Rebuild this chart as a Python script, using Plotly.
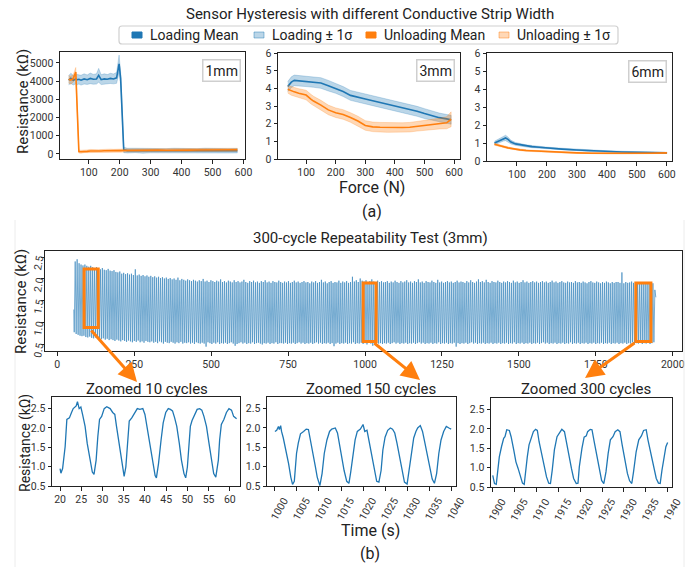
import plotly.graph_objects as go

# ---------------- hysteresis data ----------------
force_1mm = [35, 42, 50, 58, 63, 68, 75, 85, 95, 105, 115, 125, 132, 140, 150, 160, 170, 180, 190,
             198, 203, 213, 225, 250, 275, 300, 325, 350, 375, 400, 425, 450, 475, 500, 525, 550, 580]
load_mean_1mm = [4050, 4150, 4050, 4120, 4080, 4100, 4050, 4120, 4080, 4150, 4100, 4120, 4320, 4080, 4120,
                 4100, 4150, 4120, 4180, 4950, 4150, 220, 180, 190, 170, 180, 190, 170, 180, 175, 185, 170,
                 180, 175, 180, 170, 175]
load_std_1mm = [250, 280, 260, 270, 280, 260, 270, 280, 260, 290, 270, 280, 380, 270, 280, 260, 280, 270,
                300, 480, 320, 150, 130, 120, 130, 120, 125, 120, 130, 120, 125, 120, 130, 120, 125, 120, 120]
unload_mean_1mm = [4100, 4050, 4150, 4500, 2300, 130, 120, 150, 140, 160, 150, 170, 150, 160, 170, 165,
                   175, 170, 180, 185, 180, 185, 190, 200, 195, 205, 210, 200, 215, 210, 205, 215, 210,
                   220, 215, 220, 225]
unload_std_1mm = [200, 220, 200, 250, 150, 80, 80, 80, 80, 85, 80, 85, 80, 80, 85, 80, 85, 80, 85, 80,
                  85, 80, 85, 80, 85, 80, 85, 80, 85, 80, 85, 80, 85, 80, 85, 80, 85]

force_3mm = [38, 50, 60, 75, 100, 117, 125, 150, 175, 200, 225, 250, 275, 300, 325, 350, 375, 400, 425,
             450, 475, 500, 525, 550, 575, 590]
load_mean_3mm = [4.10, 4.35, 4.45, 4.43, 4.40, 4.38, 4.36, 4.30, 4.15, 4.00, 3.82, 3.60, 3.48, 3.40, 3.30,
                 3.20, 3.08, 3.00, 2.90, 2.82, 2.70, 2.57, 2.45, 2.34, 2.27, 2.22]
load_std_3mm = [0.28, 0.30, 0.30, 0.30, 0.30, 0.30, 0.30, 0.30, 0.30, 0.28, 0.28, 0.28, 0.28, 0.28, 0.28,
                0.28, 0.28, 0.28, 0.28, 0.28, 0.28, 0.28, 0.27, 0.26, 0.25, 0.25]
unload_mean_3mm = [3.95, 3.85, 3.80, 3.72, 3.62, 3.38, 3.28, 3.05, 2.78, 2.62, 2.52, 2.35, 2.15, 1.90, 1.82,
                   1.80, 1.78, 1.77, 1.78, 1.80, 1.85, 1.90, 1.95, 2.00, 2.05, 2.25]
unload_std_3mm = [0.22, 0.24, 0.25, 0.26, 0.27, 0.27, 0.27, 0.27, 0.27, 0.27, 0.27, 0.27, 0.27, 0.27, 0.27,
                  0.27, 0.27, 0.27, 0.27, 0.27, 0.27, 0.28, 0.28, 0.30, 0.34, 0.42]

force_6mm = [25, 35, 45, 55, 62, 70, 80, 95, 110, 130, 150, 175, 200, 250, 300, 350, 400, 450, 500, 550, 600]
load_mean_6mm = [1.00, 1.08, 1.15, 1.25, 1.28, 1.20, 1.05, 0.95, 0.90, 0.84, 0.80, 0.76, 0.72, 0.66, 0.61,
                 0.56, 0.53, 0.50, 0.48, 0.46, 0.45]
load_std_6mm = [0.10, 0.11, 0.12, 0.14, 0.15, 0.13, 0.10, 0.08, 0.07, 0.06, 0.06, 0.05, 0.05, 0.05, 0.04,
                0.04, 0.04, 0.04, 0.03, 0.03, 0.03]
unload_mean_6mm = [0.93, 0.88, 0.84, 0.80, 0.77, 0.73, 0.70, 0.65, 0.62, 0.58, 0.56, 0.54, 0.52, 0.48, 0.45,
                   0.43, 0.42, 0.42, 0.42, 0.43, 0.45]
unload_std_6mm = [0.05, 0.05, 0.05, 0.05, 0.05, 0.04, 0.04, 0.04, 0.04, 0.04, 0.04, 0.04, 0.03, 0.03, 0.03,
                  0.03, 0.03, 0.03, 0.03, 0.03, 0.03]

# ---------------- repeatability data (per-cycle troughs and peaks) ----------------
rep_t0 = 55.0
rep_period = 6.3
rep_first = 1.30
rep_last = 1.58
rep_peaks = [
    2.40, 2.45, 2.36, 2.33, 2.31, 2.33, 2.30, 2.28, 2.30, 2.27, 2.25, 2.27, 2.24, 2.22, 2.25, 2.21, 2.20, 2.23, 2.19, 2.18,
    2.20, 2.16, 2.15, 2.17, 2.12, 2.14, 2.11, 2.13, 2.10, 2.12, 2.09, 2.22, 2.08, 2.10, 2.07, 2.09, 2.06, 2.08, 2.05, 2.07,
    2.04, 2.06, 2.03, 2.05, 2.02, 2.04, 2.01, 2.03, 2.00, 2.02, 1.99, 2.01, 1.98, 2.03, 1.97, 2.00, 1.98, 1.96, 1.99, 1.97,
    1.95, 1.98, 1.96, 1.94, 1.97, 1.95, 2.00, 1.94, 1.96, 1.93, 1.97, 1.95, 1.93, 1.96, 1.94, 1.99, 1.93, 1.95, 1.92, 1.96,
    1.94, 1.92, 1.97, 1.93, 1.95, 1.92, 1.94, 1.98, 1.93, 1.91, 1.95, 1.93, 1.96, 1.92, 1.94, 1.91, 1.95, 1.93, 1.97, 1.92,
    1.94, 1.91, 1.95, 1.93, 1.92, 1.96, 1.93, 1.91, 1.94, 1.92, 1.95, 1.91, 1.93, 1.96, 1.92, 1.94, 1.91, 1.93, 1.95, 1.92,
    1.93, 1.90, 1.94, 1.92, 1.95, 1.91, 1.93, 1.98, 1.92, 1.94, 1.90, 1.93, 1.95, 1.91, 1.93, 1.92, 1.96, 1.91, 1.94, 1.92,
    1.95, 1.91, 1.93, 2.05, 1.94, 1.97, 1.93, 2.01, 1.96, 1.94, 1.97, 1.93, 1.95, 1.99, 1.94, 1.92, 1.96, 1.93, 1.95, 1.92,
    1.93, 1.95, 1.91, 1.94, 1.92, 1.96, 1.93, 1.91, 1.95, 1.92, 1.94, 1.97, 1.92, 1.94, 1.91, 1.95, 1.93, 1.99, 1.92, 1.94,
    1.91, 1.95, 1.93, 1.92, 1.96, 1.93, 1.91, 1.98, 1.92, 1.94, 1.91, 1.93, 1.95, 1.92, 1.94, 1.91, 1.93, 1.96, 1.92, 1.94,
    1.93, 1.91, 1.95, 1.92, 1.97, 1.93, 1.91, 1.94, 1.99, 1.93, 1.95, 1.92, 1.98, 1.93, 1.91, 1.95, 1.93, 1.92, 1.96, 1.93,
    1.91, 1.94, 1.92, 1.95, 1.93, 1.91, 1.96, 1.92, 1.94, 1.91, 1.93, 1.97, 1.92, 1.94, 1.91, 1.93, 1.95, 1.92, 1.94, 1.91,
    1.93, 1.95, 1.92, 1.94, 1.91, 1.93, 1.96, 1.92, 1.94, 1.91, 1.93, 1.95, 1.92, 1.91, 1.94, 1.92, 1.93, 1.91, 1.95, 1.92,
    1.93, 1.91, 1.94, 1.92, 1.90, 1.93, 1.95, 1.92, 1.91, 1.94, 1.92, 1.90, 1.93, 1.91, 1.94, 1.92, 1.90, 1.93, 1.91, 1.93,
    1.93, 1.91, 2.15, 1.90, 1.93, 1.91, 1.92, 1.94, 1.91, 1.93, 1.90, 1.92, 1.91, 1.93, 1.90, 1.92, 1.91, 1.93, 1.90, 1.75,
]
rep_troughs = [
    0.78, 0.74, 0.72, 0.70, 0.69, 0.70, 0.67, 0.66, 0.68, 0.65, 0.64, 0.66, 0.63, 0.65, 0.62, 0.64, 0.61, 0.63, 0.60, 0.62,
    0.60, 0.58, 0.61, 0.59, 0.57, 0.60, 0.58, 0.56, 0.59, 0.57, 0.55, 0.58, 0.56, 0.59, 0.55, 0.57, 0.54, 0.58, 0.56, 0.55,
    0.57, 0.54, 0.56, 0.53, 0.57, 0.55, 0.52, 0.56, 0.54, 0.53, 0.56, 0.54, 0.52, 0.55, 0.53, 0.56, 0.52, 0.54, 0.53, 0.55,
    0.52, 0.54, 0.51, 0.55, 0.53, 0.52, 0.54, 0.52, 0.45, 0.55, 0.53, 0.51, 0.54, 0.52, 0.55, 0.51, 0.53, 0.52, 0.54, 0.51,
    0.53, 0.55, 0.52, 0.47, 0.51, 0.53, 0.55, 0.52, 0.54, 0.51, 0.53, 0.52, 0.55, 0.51, 0.53, 0.54, 0.52, 0.50, 0.53, 0.52,
    0.54, 0.51, 0.53, 0.52, 0.55, 0.51, 0.53, 0.53, 0.52, 0.54, 0.51, 0.53, 0.52, 0.54, 0.51, 0.53, 0.55, 0.52, 0.54, 0.51,
    0.53, 0.52, 0.54, 0.51, 0.53, 0.55, 0.52, 0.54, 0.51, 0.53, 0.52, 0.54, 0.51, 0.53, 0.46, 0.52, 0.54, 0.51, 0.53, 0.52,
    0.54, 0.51, 0.53, 0.52, 0.55, 0.51, 0.53, 0.52, 0.54, 0.51, 0.53, 0.50, 0.54, 0.52, 0.47, 0.51, 0.54, 0.52, 0.53, 0.51,
    0.53, 0.52, 0.54, 0.51, 0.53, 0.55, 0.52, 0.54, 0.51, 0.53, 0.52, 0.54, 0.51, 0.53, 0.52, 0.54, 0.51, 0.53, 0.55, 0.52,
    0.54, 0.51, 0.53, 0.52, 0.54, 0.51, 0.53, 0.52, 0.55, 0.51, 0.53, 0.52, 0.54, 0.51, 0.53, 0.52, 0.54, 0.45, 0.53, 0.51,
    0.53, 0.52, 0.54, 0.51, 0.53, 0.55, 0.52, 0.54, 0.51, 0.53, 0.52, 0.54, 0.51, 0.53, 0.52, 0.54, 0.51, 0.53, 0.52, 0.54,
    0.51, 0.53, 0.52, 0.54, 0.51, 0.53, 0.52, 0.55, 0.51, 0.53, 0.52, 0.54, 0.51, 0.53, 0.52, 0.54, 0.51, 0.53, 0.52, 0.54,
    0.51, 0.53, 0.55, 0.52, 0.54, 0.51, 0.53, 0.52, 0.54, 0.51, 0.53, 0.52, 0.54, 0.51, 0.53, 0.52, 0.55, 0.51, 0.53, 0.52,
    0.54, 0.51, 0.53, 0.52, 0.54, 0.51, 0.53, 0.52, 0.54, 0.51, 0.53, 0.52, 0.54, 0.51, 0.53, 0.52, 0.54, 0.51, 0.53, 0.52,
    0.54, 0.51, 0.53, 0.52, 0.54, 0.51, 0.53, 0.52, 0.55, 0.51, 0.53, 0.52, 0.54, 0.51, 0.53, 0.52, 0.54, 0.51, 0.53, 0.55,
]
highlight_t = [(87, 133), (994, 1036), (1880, 1929)]
highlight_r = [(0.89, 2.23), (0.57, 1.91), (0.57, 1.91)]

# ---------------- zoomed windows ----------------
t10 = [20.0, 20.2, 20.6, 21.2, 21.6, 22.2, 22.7, 23.1, 23.8, 24.1, 24.5, 24.9, 25.3, 25.9, 26.4, 27.1, 27.6,
       28.0, 28.5, 28.9, 29.3, 29.8, 30.4, 31.0, 31.8, 32.4, 32.9, 33.3, 34.0, 34.6, 35.1, 35.5, 35.9, 36.3,
       36.9, 37.6, 38.2, 38.8, 39.5, 40.0, 40.5, 41.2, 41.8, 42.4, 42.7, 43.2, 43.8, 44.3, 44.9, 45.5, 46.0,
       46.5, 47.0, 47.5, 48.1, 48.6, 49.2, 49.6, 50.0, 50.4, 50.7, 51.1, 51.8, 52.3, 52.9, 53.4, 53.9, 54.5,
       55.1, 55.7, 56.2, 56.7, 57.3, 57.6, 58.0, 58.6, 59.2, 59.8, 60.4, 60.9, 61.6]
r10 = [0.95, 0.83, 0.95, 1.52, 2.22, 2.26, 2.40, 2.50, 2.57, 2.68, 2.50, 2.54, 2.35, 2.04, 1.60, 1.17, 0.86,
       0.80, 1.17, 1.78, 2.22, 2.30, 2.50, 2.55, 2.50, 2.40, 2.35, 2.04, 1.56, 1.08, 0.75, 0.99, 1.52, 2.18,
       2.26, 2.41, 2.50, 2.48, 2.50, 2.35, 2.04, 1.60, 1.17, 0.77, 0.71, 1.08, 1.69, 2.13, 2.40, 2.50, 2.48,
       2.44, 2.26, 2.04, 1.60, 1.17, 0.82, 0.71, 0.99, 1.52, 2.04, 2.19, 2.35, 2.48, 2.50, 2.46, 2.30, 2.04,
       1.60, 1.17, 0.82, 0.73, 1.17, 1.69, 2.09, 2.22, 2.40, 2.50, 2.46, 2.30, 2.24]

t150 = [1000.0, 1000.4, 1000.8, 1001.0, 1001.3, 1001.5, 1001.9, 1002.5, 1003.1, 1003.6, 1004.0, 1004.4,
        1004.6, 1004.9, 1005.3, 1005.8, 1006.5, 1007.1, 1007.6, 1008.0, 1008.6, 1009.2, 1009.6, 1010.2,
        1010.7, 1011.2, 1011.8, 1012.4, 1012.9, 1013.7, 1014.2, 1014.6, 1015.2, 1015.7, 1016.3, 1016.8,
        1017.2, 1017.7, 1018.2, 1018.7, 1019.4, 1020.0, 1020.4, 1020.9, 1021.3, 1022.0, 1022.5, 1023.1,
        1023.6, 1024.1, 1024.5, 1025.0, 1025.6, 1026.2, 1026.7, 1027.2, 1027.7, 1028.3, 1028.8, 1029.4,
        1030.0, 1030.4, 1030.9, 1031.5, 1032.0, 1032.4, 1033.0, 1033.5, 1033.9, 1034.5, 1035.1, 1035.7,
        1036.2, 1036.7, 1037.2, 1037.7, 1038.3, 1038.9, 1039.5, 1040.0]
r150 = [1.91, 1.94, 2.04, 1.96, 2.06, 1.91, 1.74, 1.43, 1.08, 0.73, 0.54, 0.62, 0.99, 1.34, 1.61, 1.85,
        1.91, 1.97, 1.96, 1.69, 1.34, 0.99, 0.73, 0.51, 0.82, 1.34, 1.69, 1.91, 1.97, 2.00, 1.87, 1.61,
        1.25, 0.90, 0.62, 0.57, 0.86, 1.34, 1.69, 1.91, 1.97, 2.09, 1.91, 1.94, 1.69, 1.25, 0.90, 0.62,
        0.60, 0.90, 1.43, 1.76, 1.94, 2.00, 1.97, 1.87, 1.61, 1.25, 0.90, 0.60, 0.55, 0.90, 1.34, 1.74,
        1.91, 2.00, 2.06, 1.91, 1.69, 1.34, 0.99, 0.68, 0.57, 0.82, 1.34, 1.69, 1.91, 2.04, 2.00, 1.97]

t300 = [1900.0, 1900.4, 1900.8, 1901.1, 1901.5, 1902.0, 1902.5, 1902.8, 1903.2, 1903.8, 1904.2, 1904.8,
        1905.3, 1905.8, 1906.3, 1906.8, 1907.2, 1907.5, 1907.9, 1908.3, 1908.7, 1909.3, 1909.8, 1910.2,
        1910.6, 1911.2, 1911.7, 1912.3, 1912.8, 1913.2, 1913.6, 1914.1, 1914.7, 1915.3, 1915.8, 1916.4,
        1916.8, 1917.4, 1918.0, 1918.5, 1919.1, 1919.5, 1919.8, 1920.4, 1920.9, 1921.4, 1921.7, 1922.3,
        1922.7, 1923.2, 1923.8, 1924.4, 1924.9, 1925.4, 1925.9, 1926.4, 1926.9, 1927.5, 1928.0, 1928.6,
        1929.1, 1929.6, 1930.2, 1930.8, 1931.3, 1931.8, 1932.2, 1932.8, 1933.4, 1934.0, 1934.5, 1935.1,
        1935.5, 1936.2, 1936.8, 1937.4, 1937.9, 1938.3, 1938.7, 1939.2, 1939.6, 1940.0]
r300 = [0.80, 0.59, 0.57, 0.93, 1.28, 1.54, 1.76, 1.80, 1.98, 1.96, 1.80, 1.46, 1.15, 0.98, 0.76, 0.60,
        0.57, 0.93, 1.28, 1.59, 1.72, 1.93, 1.99, 1.96, 1.67, 1.33, 1.02, 0.76, 0.60, 0.59, 0.93, 1.46,
        1.80, 1.91, 1.99, 1.93, 1.67, 1.33, 0.98, 0.72, 0.59, 0.60, 1.02, 1.50, 1.79, 1.82, 1.93, 1.99,
        1.98, 1.67, 1.28, 0.93, 0.67, 0.59, 0.89, 1.37, 1.72, 1.80, 1.93, 1.98, 1.93, 1.59, 1.20, 0.85,
        0.66, 0.59, 0.89, 1.41, 1.72, 1.82, 1.96, 1.98, 1.72, 1.33, 0.98, 0.72, 0.60, 0.59, 0.93, 1.28,
        1.54, 1.65]

# ---------------- style ----------------
W, H = 699, 567
FONT = "Roboto"
BLUE = "#1f77b4"
ORANGE = "#ff7f0e"
BLUE_BAND = "rgba(31,119,180,0.30)"
ORANGE_BAND = "rgba(255,127,14,0.30)"


def px(x):
    return x / W


def py(y):
    return 1 - y / H


fig = go.Figure()


def add_band(xs, mean, std, fillc, ax):
    upper = [m + s for m, s in zip(mean, std)]
    lower = [m - s for m, s in zip(mean, std)]
    fig.add_trace(go.Scatter(x=list(xs) + list(xs)[::-1], y=upper + lower[::-1], fill="toself",
                             fillcolor=fillc, mode="lines", line=dict(width=0.8, color=fillc),
                             hoverinfo="skip", showlegend=False, xaxis="x" + ax, yaxis="y" + ax))


def add_line(xs, ys, color, ax, width=1.6, opacity=1.0):
    fig.add_trace(go.Scatter(x=xs, y=ys, mode="lines", line=dict(width=width, color=color),
                             opacity=opacity, showlegend=False, xaxis="x" + ax, yaxis="y" + ax))


panels = [
    ("", force_1mm, load_mean_1mm, load_std_1mm, unload_mean_1mm, unload_std_1mm),
    ("2", force_3mm, load_mean_3mm, load_std_3mm, unload_mean_3mm, unload_std_3mm),
    ("3", force_6mm, load_mean_6mm, load_std_6mm, unload_mean_6mm, unload_std_6mm),
]
for ax, f, lm, ls, um, us in panels:
    add_band(f, lm, ls, BLUE_BAND, ax)
    add_line(f, lm, BLUE, ax)
    add_band(f, um, us, ORANGE_BAND, ax)
    add_line(f, um, ORANGE, ax)

# repeatability long trace
rep_x = [rep_t0 - 1.5]
rep_y = [rep_first]
for i, (tr, pk) in enumerate(zip(rep_troughs, rep_peaks)):
    rep_x += [rep_t0 + i * rep_period, rep_t0 + i * rep_period + rep_period / 2]
    rep_y += [tr, pk]
rep_x.append(rep_t0 + len(rep_peaks) * rep_period)
rep_y.append(rep_last)
add_line(rep_x, rep_y, BLUE, "4", width=0.7, opacity=0.85)

add_line(t10, r10, BLUE, "5", width=1.3)
add_line(t150, r150, BLUE, "6", width=1.3)
add_line(t300, r300, BLUE, "7", width=1.3)

# ---------------- axes ----------------
tickfont = dict(family=FONT, size=10.5, color="#333")


def axstyle(**kw):
    d = dict(showline=True, mirror=True, linecolor="#222", linewidth=1, ticks="outside", ticklen=3.5,
             tickwidth=0.8, tickcolor="#222", showgrid=False, zeroline=False, tickfont=tickfont,
             automargin=False)
    d.update(kw)
    return d


boxes = {
    "": ((60, 245), (52, 159)),
    "2": ((278, 460), (53, 159)),
    "3": ((487, 672), (53, 161)),
    "4": ((45, 682), (251, 351)),
    "5": ((52, 240), (397, 486)),
    "6": ((267, 456), (397, 486)),
    "7": ((491, 672), (398, 487)),
}
xranges = {"": [7, 605], "2": [5, 620], "3": [0, 617], "4": [-40, 2030],
           "5": [18.1, 62.4], "6": [998.2, 1041.1], "7": [1899.6, 1941.0]}
yranges = {"": [-280, 5600], "2": [0, 6], "3": [0, 6], "4": [0.35, 2.64],
           "5": [0.5, 2.8], "6": [0.5, 2.8], "7": [0.5, 2.8]}

layout = {}
for ax, ((x0, x1), (y0, y1)) in boxes.items():
    xk = dict(domain=[px(x0), px(x1)], range=xranges[ax], anchor="y" + ax)
    yk = dict(domain=[py(y1), py(y0)], range=yranges[ax], anchor="x" + ax)
    if ax in ("", "2", "3"):
        xk.update(tickvals=[100, 200, 300, 400, 500, 600])
        if ax == "":
            yk.update(tickvals=[0, 1000, 2000, 3000, 4000, 5000])
        else:
            yk.update(tickvals=[0, 1, 2, 3, 4, 5, 6])
    elif ax == "4":
        xk.update(tickvals=[0, 250, 500, 750, 1000, 1250, 1500, 1750, 2000])
        yk.update(tickvals=[0.5, 1.0, 1.5, 2.0, 2.5], tickformat=".1f", tickangle=-80)
    else:
        yk.update(tickvals=[0.5, 1.0, 1.5, 2.0, 2.5], tickformat=".1f")
        if ax == "5":
            xk.update(tickvals=[20, 25, 30, 35, 40, 45, 50, 55, 60])
        elif ax == "6":
            xk.update(tickvals=list(range(1000, 1041, 5)), tickangle=-60, ticklabelshift=9)
        else:
            xk.update(tickvals=list(range(1900, 1941, 5)), tickangle=-60, ticklabelshift=9)
    layout["xaxis" + ax] = axstyle(**xk)
    layout["yaxis" + ax] = axstyle(**yk)

# ---------------- annotations ----------------
ann = []


def text(x, y, s, size, color="#222", angle=0, xanchor="center", **kw):
    ann.append(dict(x=px(x), y=py(y), xref="paper", yref="paper", text=s, showarrow=False,
                    font=dict(family=FONT, size=size, color=color), textangle=angle,
                    xanchor=xanchor, yanchor="middle", **kw))


text(370, 14, "Sensor Hysteresis with different Conductive Strip Width", 15)
text(23, 102, "Resistance (kΩ)", 15, angle=-90)
text(372, 187, "Force (N)", 16)
text(372, 211, "(a)", 16)
text(370, 238, "300-cycle Repeatability Test (3mm)", 15)
text(21, 302, "Resistance (kΩ)", 15, angle=-90)
text(147, 389, "Zoomed 10 cycles", 15)
text(371, 389, "Zoomed 150 cycles", 15)
text(586, 389, "Zoomed 300 cycles", 15)
text(25, 443, "Resistance (kΩ)", 14, angle=-90)
text(370, 530, "Time (s)", 16)
text(370, 553, "(b)", 16)

# width labels
for label, xr, yc in [("1mm", 241, 70), ("3mm", 455, 70), ("6mm", 667, 71)]:
    ann.append(dict(x=px(xr), y=py(yc), xref="paper", yref="paper", text=label, showarrow=False,
                    font=dict(family=FONT, size=14, color="#222"), xanchor="right", yanchor="middle",
                    bgcolor="white", bordercolor="#cfcfcf", borderwidth=1.5, borderpad=2))

# legend
legend_items = [("Loading Mean", BLUE, BLUE, 132), ("Loading ± 1σ", BLUE_BAND, "rgba(31,119,180,0.45)", 254),
                ("Unloading Mean", ORANGE, ORANGE, 366), ("Unloading ± 1σ", ORANGE_BAND, "rgba(255,127,14,0.45)", 499)]
shapes = []


def rrect(x0, y0, x1, y1, r):
    X = lambda v: f"{px(v):.5f}"
    Y = lambda v: f"{py(v):.5f}"
    return (f"M{X(x0 + r)},{Y(y0)} L{X(x1 - r)},{Y(y0)} Q{X(x1)},{Y(y0)} {X(x1)},{Y(y0 + r)} "
            f"L{X(x1)},{Y(y1 - r)} Q{X(x1)},{Y(y1)} {X(x1 - r)},{Y(y1)} L{X(x0 + r)},{Y(y1)} "
            f"Q{X(x0)},{Y(y1)} {X(x0)},{Y(y1 - r)} L{X(x0)},{Y(y0 + r)} Q{X(x0)},{Y(y0)} {X(x0 + r)},{Y(y0)} Z")


shapes.append(dict(type="path", xref="paper", yref="paper", path=rrect(119, 26, 618, 44, 3),
                   line=dict(color="#d0d0d0", width=1.2), fillcolor="white"))
for label, fillc, linec, x0 in legend_items:
    shapes.append(dict(type="rect", xref="paper", yref="paper", x0=px(x0), x1=px(x0 + 10),
                       y0=py(38), y1=py(32), fillcolor=fillc, line=dict(color=linec, width=1)))
    text(x0 + 16, 35, label, 14, xanchor="left")

# highlight rectangles on the long trace
for (ta, tb), (ra, rb) in zip(highlight_t, highlight_r):
    shapes.append(dict(type="rect", xref="x4", yref="y4", x0=ta, x1=tb, y0=ra, y1=rb,
                       line=dict(color=ORANGE, width=3), fillcolor="rgba(0,0,0,0)"))

# arrows (tip position, tail offset in pixels)
for tip, off in [((137, 382), (-47, -53)), ((420, 380), (-47, -38)), ((585, 378), (51, -36))]:
    ann.append(dict(x=px(tip[0]), y=py(tip[1]), xref="paper", yref="paper", text="", showarrow=True,
                    ax=off[0], ay=off[1], arrowhead=2, arrowsize=1.25, arrowwidth=3, arrowcolor=ORANGE))

# faint sub-figure frame edges
for xv in (15, 684):
    shapes.append(dict(type="line", xref="paper", yref="paper", x0=px(xv), x1=px(xv), y0=py(220), y1=0,
                       line=dict(color="#ececec", width=1)))

fig.update_layout(width=W, height=H, margin=dict(l=0, r=0, t=0, b=0, autoexpand=False),
                  plot_bgcolor="white", paper_bgcolor="white", showlegend=False,
                  annotations=ann, shapes=shapes, font=dict(family=FONT), **layout)

fig.write_html("out.html", config={"displayModeBar": False},
               post_script="document.body.style.margin='0';document.body.style.padding='0';"
                           "document.body.style.overflow='hidden';")
